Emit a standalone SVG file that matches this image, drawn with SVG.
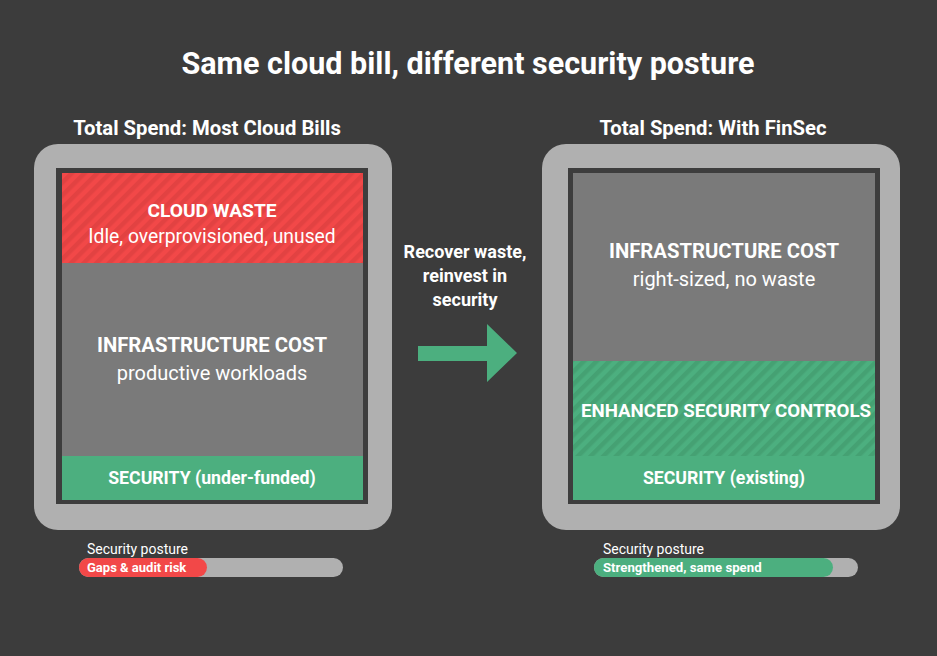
<svg xmlns="http://www.w3.org/2000/svg" width="937" height="656" viewBox="0 0 937 656">
<defs>
<pattern id="redStripes" patternUnits="userSpaceOnUse" width="9" height="9" patternTransform="rotate(45)">
<rect width="9" height="9" fill="#f24848"/>
<rect width="4.5" height="9" fill="#e24242"/>
</pattern>
<pattern id="greenStripes" patternUnits="userSpaceOnUse" width="9" height="9" patternTransform="rotate(45)">
<rect width="9" height="9" fill="#4caf7f"/>
<rect width="4.5" height="9" fill="#45a173"/>
</pattern>
</defs>
<style>
text{font-family:Roboto,"Liberation Sans",sans-serif;fill:#ffffff;text-anchor:middle}
.b{font-weight:bold}
.frame{fill:#b0b0b0}
.inner{fill:#3d3d3d}
.infra{fill:#7a7a7a}
.green{fill:#4caf7f}
.track{fill:#b0b0b0}
</style>
<rect width="937" height="656" fill="#3c3c3c"/>
<text x="468" y="74" class="b" font-size="30.5">Same cloud bill, different security posture</text>

<g id="left">
<text x="207" y="135" class="b" font-size="20.3">Total Spend: Most Cloud Bills</text>
<rect x="34" y="144" width="358" height="386" rx="24" class="frame"/>
<rect x="56" y="168" width="312" height="336" class="inner"/>
<rect x="62" y="173" width="301" height="90" fill="url(#redStripes)"/>
<rect x="62" y="263" width="301" height="193" class="infra"/>
<rect x="62" y="456" width="301" height="44" class="green"/>
<text x="212" y="217" class="b" font-size="19.2">CLOUD WASTE</text>
<text x="212" y="243" font-size="19.3">Idle, overprovisioned, unused</text>
<text x="212" y="352" class="b" font-size="20.3">INFRASTRUCTURE COST</text>
<text x="212" y="380" font-size="20">productive workloads</text>
<text x="212" y="484" class="b" font-size="17.7">SECURITY (under-funded)</text>
</g>

<g id="left-posture">
<text x="87" y="554" font-size="14" style="text-anchor:start">Security posture</text>
<rect x="79" y="558" width="264" height="19" rx="9.5" class="track"/>
<rect x="79" y="558" width="128" height="19" rx="9.5" fill="#f24848"/>
<text x="87" y="572" class="b" font-size="13" style="text-anchor:start">Gaps &amp; audit risk</text>
</g>

<g id="right">
<text x="713" y="135" class="b" font-size="20.3">Total Spend: With FinSec</text>
<rect x="542" y="144" width="358" height="386" rx="24" class="frame"/>
<rect x="568" y="168" width="312" height="336" class="inner"/>
<rect x="573" y="173" width="302" height="188" class="infra"/>
<rect x="573" y="361" width="302" height="95" fill="url(#greenStripes)"/>
<rect x="573" y="456" width="302" height="44" class="green"/>
<text x="724" y="258" class="b" font-size="20.3">INFRASTRUCTURE COST</text>
<text x="724" y="286" font-size="20">right-sized, no waste</text>
<text x="726" y="417" class="b" font-size="18.7">ENHANCED SECURITY CONTROLS</text>
<text x="724" y="484" class="b" font-size="17.7">SECURITY (existing)</text>
</g>

<g id="right-posture">
<text x="603" y="554" font-size="14" style="text-anchor:start">Security posture</text>
<rect x="594" y="558" width="264" height="19" rx="9.5" class="track"/>
<rect x="594" y="558" width="239" height="19" rx="9.5" class="green"/>
<text x="603" y="572" class="b" font-size="13.2" style="text-anchor:start">Strengthened, same spend</text>
</g>

<g id="connectors">
<text x="465" y="258" class="b" font-size="18">Recover waste,</text>
<text x="465" y="282" class="b" font-size="18">reinvest in</text>
<text x="465" y="306" class="b" font-size="18">security</text>
<polygon points="418,346 487,346 487,324 517,353 487,382 487,361 418,361" fill="#4caf7f"/>
</g>
</svg>
